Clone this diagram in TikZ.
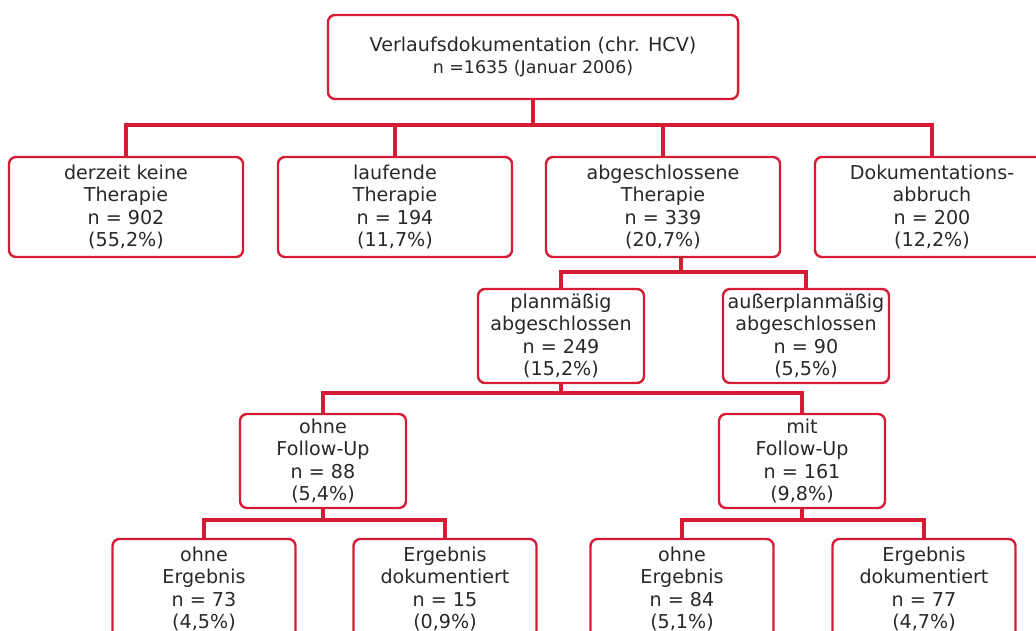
\documentclass[tikz,border=0pt]{standalone}
\usepackage{fontspec}
\setmainfont{DejaVu Sans}
\usetikzlibrary{positioning}

\definecolor{hcvred}{RGB}{214,28,52}
\definecolor{boxgray}{RGB}{40,40,40}

\begin{document}
\begin{tikzpicture}[
    x=0.025cm,
    y=-0.025cm,
    block/.style={
        rectangle,
        draw=hcvred,
        line width=1.7pt,
        rounded corners=5pt,
        align=center,
        text=boxgray,
        inner sep=0pt,
        font=\fontsize{13.6}{16.1}\selectfont
    },
    topblock/.style={
        block,
        minimum width=10.25cm,
        minimum height=2.1cm
    },
    wideblock/.style={
        block,
        minimum width=5.85cm,
        minimum height=2.5cm
    },
    midblock/.style={
        block,
        minimum width=4.15cm,
        minimum height=2.35cm
    },
    lowblock/.style={
        block,
        minimum width=4.575cm,
        minimum height=2.5cm
    },
    line/.style={
        draw=hcvred,
        line width=2.4pt
    }
]
    \useasboundingbox (0,0) rectangle (1036,630);
    \clip (0,0) rectangle (1036,630);

    % --- Root ---
    \node [topblock] (doku) at (533,57)
        {Verlaufsdokumentation (chr. HCV)\\[-0.5pt]{\fontsize{12.4}{14}\selectfont n =1635 (Januar 2006)}};

    % --- First level ---
    \node [wideblock] (keine) at (126,207) {derzeit keine\\Therapie\\n = 902\\(55,2\%)};
    \node [wideblock] (laufend) at (395,207) {laufende\\Therapie\\n = 194\\(11,7\%)};
    \node [wideblock] (abgeschl) at (663,207) {abgeschlossene\\Therapie\\n = 339\\(20,7\%)};
    \node [wideblock] (abbruch) at (932,207) {Dokumentations-\\abbruch\\n = 200\\(12,2\%)};

    % --- Second level ---
    \node [midblock] (plan) at (561,336) {planmäßig\\abgeschlossen\\n = 249\\(15,2\%)};
    \node [midblock] (ausser) at (806,336) {außerplanmäßig\\abgeschlossen\\n = 90\\(5,5\%)};

    % --- Third level ---
    \node [midblock] (ohnefu) at (323,461) {ohne\\Follow-Up\\n = 88\\(5,4\%)};
    \node [midblock] (mitfu) at (802,461) {mit\\Follow-Up\\n = 161\\(9,8\%)};

    % --- Fourth level ---
    \node [lowblock] (ohneerg1) at (204,589) {ohne\\Ergebnis\\n = 73\\(4,5\%)};
    \node [lowblock] (erg1) at (445,589) {Ergebnis\\dokumentiert\\n = 15\\(0,9\%)};
    \node [lowblock] (ohneerg2) at (682,589) {ohne\\Ergebnis\\n = 84\\(5,1\%)};
    \node [lowblock] (erg2) at (924,589) {Ergebnis\\dokumentiert\\n = 77\\(4,7\%)};

    % --- Junctions ---
    \coordinate (j1) at (533,125);
    \coordinate (j2) at (681,272);
    \coordinate (j3) at (561,393);
    \coordinate (j4) at (323,520);
    \coordinate (j5) at (802,520);

    % --- Connections ---
    \path [line] (doku.south) -- (j1) -| (keine.north);
    \path [line] (j1) -| (laufend.north);
    \path [line] (j1) -| (abgeschl.north);
    \path [line] (j1) -| (abbruch.north);

    \path [line] (abgeschl.south -| j2) -- (j2) -| (plan.north);
    \path [line] (j2) -| (ausser.north);

    \path [line] (plan.south) -- (j3) -| (ohnefu.north);
    \path [line] (j3) -| (mitfu.north);

    \path [line] (ohnefu.south) -- (j4) -| (ohneerg1.north);
    \path [line] (j4) -| (erg1.north);
    \path [line] (mitfu.south) -- (j5) -| (ohneerg2.north);
    \path [line] (j5) -| (erg2.north);

\end{tikzpicture}
\end{document}
